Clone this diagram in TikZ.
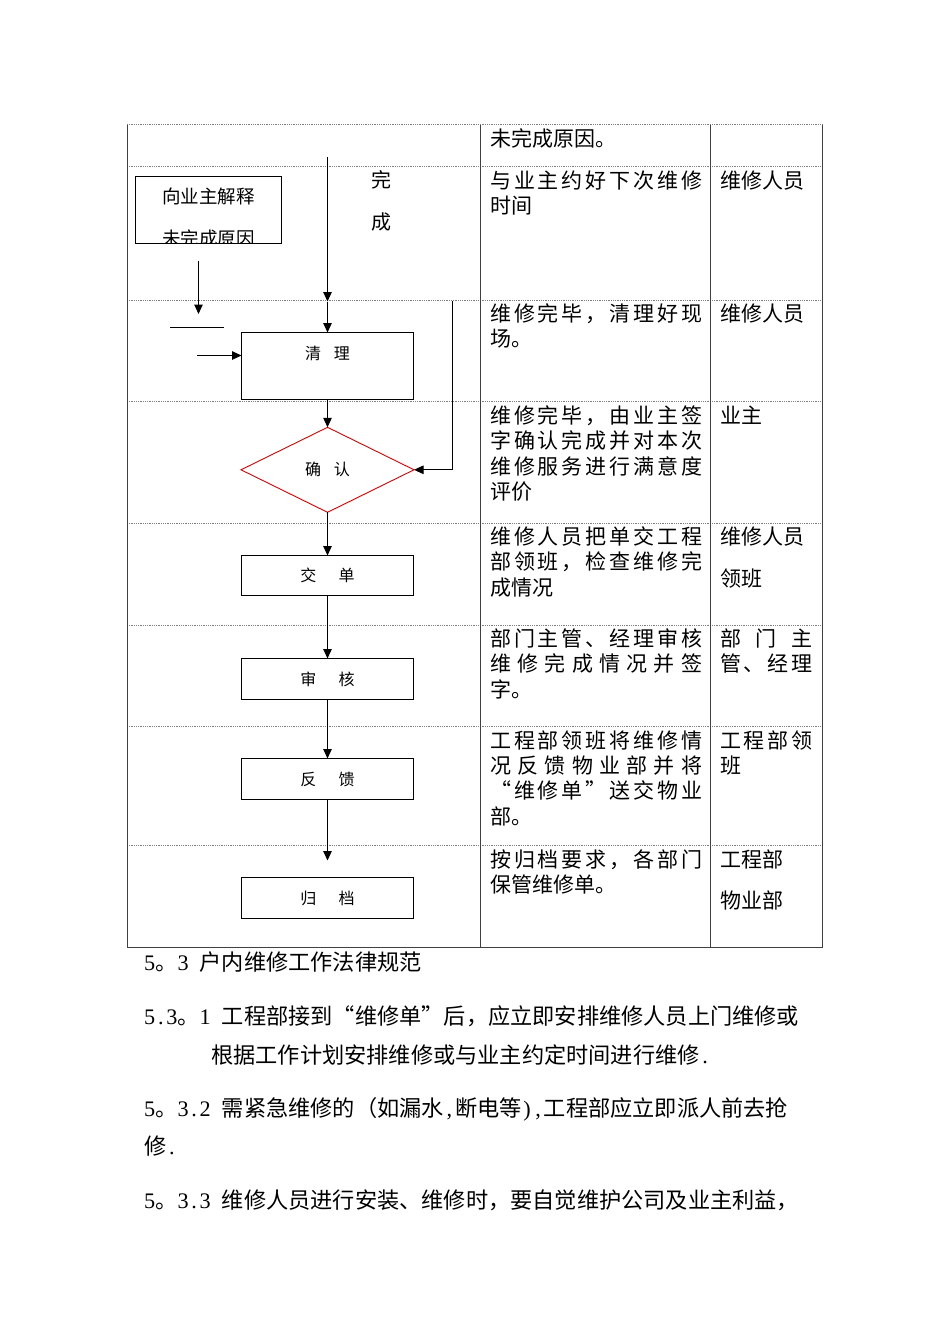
\documentclass[tikz,border=0pt]{standalone}
\usepackage{fontspec}
\setmainfont{Noto Sans CJK SC}
\newfontfamily\latinf{Liberation Serif}
\usetikzlibrary{arrows.meta,shapes.geometric}
\newcommand\spreadto[2]{\hbox to #1{\spreadfirst#2\relax}}
\def\spreadfirst#1{#1\spreadrest}
\def\spreadrest#1{\ifx\relax#1\else\hfil#1\expandafter\spreadrest\fi}
\newcommand\hw[1]{\makebox[0.5em][c]{\latinf #1}}
\tikzset{
  tline/.style={draw=black!75, line width=1pt},
  dotl/.style={draw=black!50, line width=0.8pt, dash pattern=on 0.9pt off 0.9pt},
  fbox/.style={draw=black, line width=1pt, rectangle, inner sep=0pt, outer sep=0pt, minimum width=172pt},
  arr/.style={draw=black, line width=1pt, -{Triangle[width=8.5pt,length=9.5pt]}},
  ln/.style={draw=black, line width=1pt},
  ct/.style={anchor=base west, inner sep=0pt, font=\fontsize{21}{25}\selectfont},
  bt/.style={anchor=base west, inner sep=0pt, font=\fontsize{22.2}{26}\selectfont},
  bxt/.style={inner sep=0pt, font=\fontsize{16}{18}\selectfont},
  bxe/.style={inner sep=0pt, font=\fontsize{18.5}{20}\selectfont},
}
\begin{document}
\begin{tikzpicture}[x=1pt,y=-1pt]
\useasboundingbox (0,0) rectangle (950,1344);
% ---------- table ----------
\foreach \yy in {124.5,166.5,300.5,401.5,523.5,625.5,726.5,845.5}
  \draw[dotl] (127,\yy) -- (822,\yy);
\draw[tline] (127,124.5) -- (127,947.5) -- (822,947.5) -- (822,124.5);
\draw[tline] (480.5,124.5) -- (480.5,947.5);
\draw[tline] (710.5,124.5) -- (710.5,947.5);
% ---------- column 2 ----------
\node[ct] (r1a) at (490,146) {未完成原因。};
\node[ct] (r2a) at (490,188) {\spreadto{212pt}{与业主约好下次维修}};
\node[ct] (r2b) at (490,213) {时间};
\node[ct] (r3a) at (490,321) {\spreadto{212pt}{维修完毕，清理好现}};
\node[ct] (r3b) at (490,346) {场。};
\node[ct] (r4a) at (490,423) {\spreadto{212pt}{维修完毕，由业主签}};
\node[ct] (r4b) at (490,448) {\spreadto{212pt}{字确认完成并对本次}};
\node[ct] (r4c) at (490,474) {\spreadto{212pt}{维修服务进行满意度}};
\node[ct] (r4d) at (490,499) {评价};
\node[ct] (r5a) at (490,544) {\spreadto{212pt}{维修人员把单交工程}};
\node[ct] (r5b) at (490,569) {\spreadto{212pt}{部领班，检查维修完}};
\node[ct] (r5c) at (490,595) {成情况};
\node[ct] (r6a) at (490,646) {\spreadto{212pt}{部门主管、经理审核}};
\node[ct] (r6b) at (490,671) {\spreadto{212pt}{维修完成情况并签}};
\node[ct] (r6c) at (490,697) {字。};
\node[ct] (r7a) at (490,748) {\spreadto{212pt}{工程部领班将维修情}};
\node[ct] (r7b) at (490,773) {\spreadto{212pt}{况反馈物业部并将}};
\node[ct] (r7c) at (490,798) {\spreadto{212pt}{“维修单”送交物业}};
\node[ct] (r7d) at (490,824) {部。};
\node[ct] (r8a) at (490,867) {\spreadto{212pt}{按归档要求，各部门}};
\node[ct] (r8b) at (490,892) {保管维修单。};
% ---------- column 3 ----------
\node[ct] (s2a) at (720,188) {维修人员};
\node[ct] (s3a) at (720,321) {维修人员};
\node[ct] (s4a) at (720,423) {业主};
\node[ct] (s5a) at (720,544) {维修人员};
\node[ct] (s5b) at (720,586) {领班};
\node[ct] (s6a) at (720,646) {\spreadto{92pt}{部门主}};
\node[ct] (s6b) at (720,671) {\spreadto{92pt}{管、经理}};
\node[ct] (s7a) at (720,748) {\spreadto{92pt}{工程部领}};
\node[ct] (s7b) at (720,773) {班};
\node[ct] (s8a) at (720,867) {工程部};
\node[ct] (s8b) at (720,908) {物业部};
% ---------- flowchart ----------
\begin{scope}
  \clip (135.5,176.5) rectangle (281.5,243.5);
  \node[bxe] (exp1) at (208.5,196.5) {向业主解释};
  \node[bxe] (exp2) at (208.5,238) {未完成原因};
\end{scope}
\node[fbox, minimum width=146pt, minimum height=67pt] (explain) at (208.5,210) {};
\node[inner sep=0pt, font=\fontsize{20}{22}\selectfont] (wan) at (381.5,180) {完};
\node[inner sep=0pt, font=\fontsize{20}{22}\selectfont] (cheng) at (381.5,222) {成};

\node[fbox, minimum height=67pt] (clean) at (327.5,366) {};
\node[bxt] (cleant) at (327.5,353) {清\hspace{13pt}理};
\node[diamond, draw=red!85!black, line width=0.9pt, outer sep=0pt, minimum width=173pt, minimum height=85pt, inner sep=0pt, font=\fontsize{16}{18}\selectfont] (confirm) at (327.5,469.8) {确\hspace{13pt}认};
\node[fbox, minimum height=40pt, font=\fontsize{16}{18}\selectfont] (hand) at (327.5,575.5) {交\hspace{22.5pt}单};
\node[fbox, minimum height=41pt, font=\fontsize{16}{18}\selectfont] (audit) at (327.5,679) {审\hspace{22.5pt}核};
\node[fbox, minimum height=41pt, font=\fontsize{16}{18}\selectfont] (feedback) at (327.5,779) {反\hspace{22.5pt}馈};
\node[fbox, minimum height=41pt, font=\fontsize{16}{18}\selectfont] (archive) at (327.5,898) {归\hspace{22.5pt}档};

\coordinate (a1) at (327.5,157);
\coordinate (a1e) at (327.5,301.5);
\coordinate (b1) at (198.5,260.5);
\coordinate (b1e) at (198.5,314);
\coordinate (h1) at (170,327.5);
\coordinate (h2) at (224,327.5);
\coordinate (c1) at (197.3,355.5);
\coordinate (fb) at (452.5,300.5);
\coordinate (fe) at (327.5,860.5);

\draw[arr] (a1) -- (a1e);
\draw[arr] (a1e) -- (clean.north);
\draw[arr] (b1) -- (b1e);
\draw[ln] (h1) -- (h2);
\draw[arr] (c1) -- (c1 -| clean.west);
\draw[arr] (clean.south) -- (confirm.north);
\draw[arr] (fb) |- (confirm.east);
\draw[arr] (confirm.south) -- (hand.north);
\draw[arr] (hand.south) -- (audit.north);
\draw[arr] (audit.south) -- (feedback.north);
\draw[arr] (feedback.south) -- (fe);
% ---------- paragraphs below ----------
\node[bt] (p1) at (144,970) {\hw5。\hw3\hspace{0.5em}户内维修工作法律规范};
\node[bt] (p2) at (144,1024) {\hw5\hw.\hw3。\hw1\hspace{0.5em}工程部接到“维修单”后，应立即安排维修人员上门维修或};
\node[bt] (p3) at (211,1063) {根据工作计划安排维修或与业主约定时间进行维修\hw.};
\node[bt] (p4) at (144,1116) {\hw5。\hw3\hw.\hw2\hspace{0.5em}需紧急维修的（如漏水\hw,断电等\hw)\hw,工程部应立即派人前去抢};
\node[bt] (p5) at (144,1154) {修\hw.};
\node[bt] (p6) at (144,1208) {\hw5。\hw3\hw.\hw3\hspace{0.5em}维修人员进行安装、维修时，要自觉维护公司及业主利益，};
\end{tikzpicture}
\end{document}
